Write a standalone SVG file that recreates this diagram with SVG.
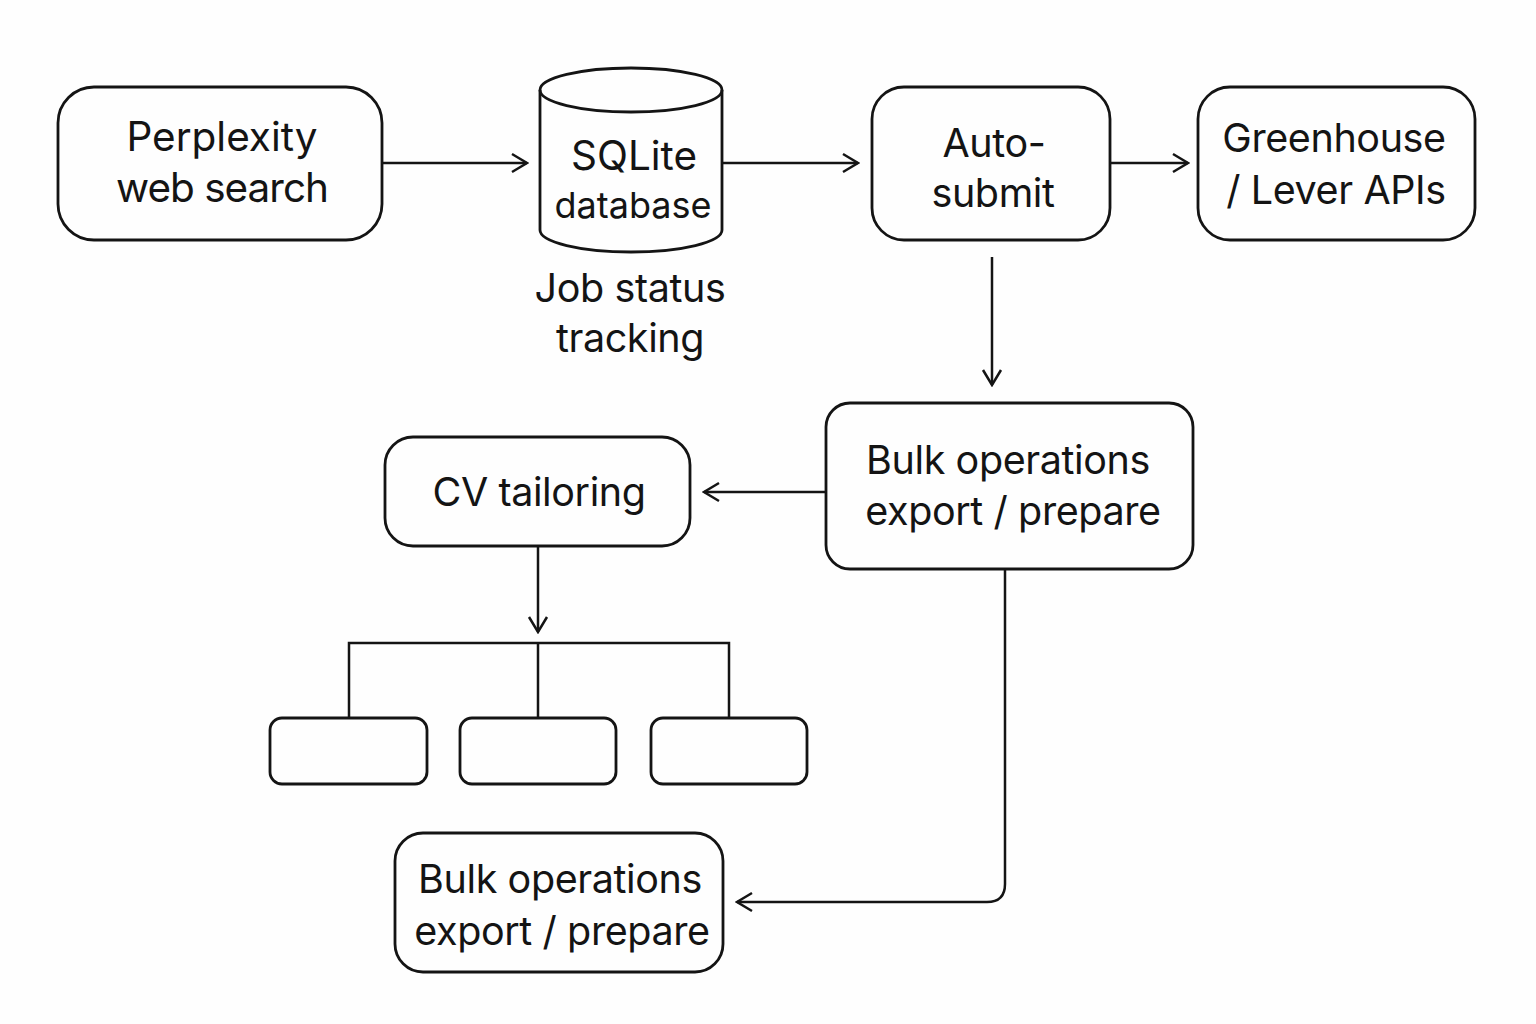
<svg xmlns="http://www.w3.org/2000/svg" width="1536" height="1024" viewBox="0 0 1536 1024">
<style>
.box{fill:none;stroke:#141414;stroke-width:2.8}
.ln{fill:none;stroke:#141414;stroke-width:2.5}
.t{font-family:Inter,"Noto Sans","Liberation Sans",sans-serif;font-size:39.5px;fill:#141414;text-anchor:middle;letter-spacing:-0.4px}
</style>
<defs>
<marker id="arr" viewBox="0 0 22 22" refX="20" refY="11" markerWidth="22" markerHeight="22" markerUnits="userSpaceOnUse" orient="auto">
<path d="M5,2 L20,11 L5,20" fill="none" stroke="#141414" stroke-width="2.5"/>
</marker>
</defs>
<rect width="1536" height="1024" fill="#fefefe"/>
<g id="perplexity">
<rect class="box" x="58" y="87" width="324" height="153" rx="36"/>
<text class="t" x="222" y="151" style="font-size:40.5px;letter-spacing:0">Perplexity</text>
<text class="t" x="222" y="202" style="font-size:40.5px;letter-spacing:-1px">web search</text>
</g>
<g id="sqlite">
<path class="box" d="M540,90 A91,22 0 0 1 722,90 L722,230 A91,22 0 0 1 540,230 Z"/>
<path class="box" d="M540,90 A91,22 0 0 0 722,90"/>
<text class="t" x="634" y="170" style="font-size:40.5px;letter-spacing:0">SQLite</text>
<text class="t" x="633" y="218" style="font-size:36px;letter-spacing:0">database</text>
</g>
<g id="jobstatus">
<text class="t" x="630" y="302">Job status</text>
<text class="t" x="630" y="352">tracking</text>
</g>
<g id="autosubmit">
<rect class="box" x="872" y="87" width="238" height="153" rx="32"/>
<text class="t" x="994" y="157">Auto-</text>
<text class="t" x="993" y="207">submit</text>
</g>
<g id="greenhouse">
<rect class="box" x="1198" y="87" width="277" height="153" rx="32"/>
<text class="t" x="1334" y="152">Greenhouse</text>
<text class="t" x="1336" y="204">/ Lever APIs</text>
</g>
<g id="bulk1">
<rect class="box" x="826" y="403" width="367" height="166" rx="24"/>
<text class="t" x="1008" y="474">Bulk operations</text>
<text class="t" x="1013" y="525">export / prepare</text>
</g>
<g id="cv">
<rect class="box" x="385" y="437" width="305" height="109" rx="28"/>
<text class="t" x="539" y="506">CV tailoring</text>
</g>
<g id="child1"><rect class="box" x="270" y="718" width="157" height="66" rx="12"/></g>
<g id="child2"><rect class="box" x="460" y="718" width="156" height="66" rx="12"/></g>
<g id="child3"><rect class="box" x="651" y="718" width="156" height="66" rx="12"/></g>
<g id="bulk2">
<rect class="box" x="395" y="833" width="328" height="139" rx="28"/>
<text class="t" x="560" y="893">Bulk operations</text>
<text class="t" x="562" y="945">export / prepare</text>
</g>
<g id="connectors">
<line class="ln" x1="383" y1="163" x2="527" y2="163" marker-end="url(#arr)"/>
<line class="ln" x1="722" y1="163" x2="858" y2="163" marker-end="url(#arr)"/>
<line class="ln" x1="1111" y1="163" x2="1188" y2="163" marker-end="url(#arr)"/>
<line class="ln" x1="992" y1="257" x2="992" y2="385" marker-end="url(#arr)"/>
<line class="ln" x1="825" y1="492" x2="704" y2="492" marker-end="url(#arr)"/>
<line class="ln" x1="538" y1="546" x2="538" y2="632" marker-end="url(#arr)"/>
<path class="ln" d="M349,718 V643 H729 V718 M538,643 V718"/>
<path class="ln" d="M1005,569 V884 Q1005,902 987,902 H737" marker-end="url(#arr)"/>
</g>
</svg>
